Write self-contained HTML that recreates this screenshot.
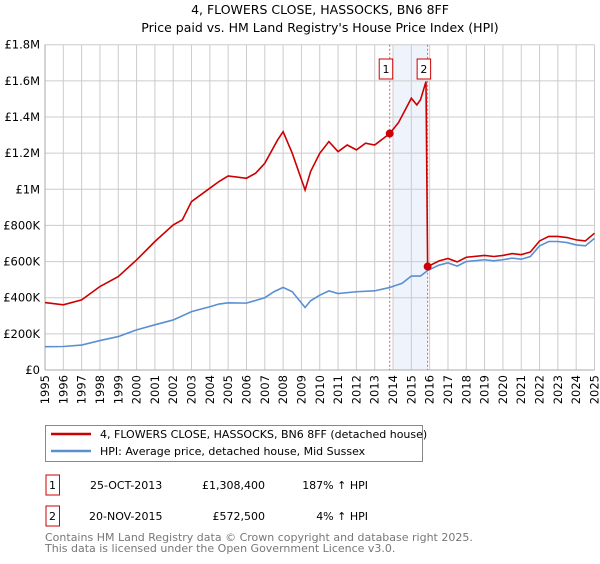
<!DOCTYPE html>
<html><head><meta charset="utf-8"><style>
body{margin:0;background:#fff;font-family:"DejaVu Sans","Liberation Sans",sans-serif;}
svg text{font-family:"DejaVu Sans","Liberation Sans",sans-serif;}
</style></head><body>
<svg id="chart" width="600" height="560" xmlns="http://www.w3.org/2000/svg">
<text x="320" y="14" text-anchor="middle" font-size="12.5" fill="#000">4, FLOWERS CLOSE, HASSOCKS, BN6 8FF</text>
<text x="320" y="32" text-anchor="middle" font-size="12.5" fill="#000">Price paid vs. HM Land Registry's House Price Index (HPI)</text>
<g id="plot"></g>
<g>
<rect x="45.5" y="425.5" width="377" height="36" fill="#fff" stroke="#888"/>
<line x1="51" y1="434" x2="91" y2="434" stroke="#cc0000" stroke-width="2.5"/>
<text x="100" y="438" font-size="11">4, FLOWERS CLOSE, HASSOCKS, BN6 8FF (detached house)</text>
<line x1="51" y1="451" x2="91" y2="451" stroke="#5b8fd4" stroke-width="2.5"/>
<text x="100" y="455" font-size="11">HPI: Average price, detached house, Mid Sussex</text>
</g>
<g font-size="11">
<rect x="46" y="475" width="13.5" height="20" fill="#fff" stroke="#cc0000"/>
<text x="52.5" y="489" text-anchor="middle">1</text>
<text x="90" y="489">25-OCT-2013</text>
<text x="265" y="489" text-anchor="end">£1,308,400</text>
<text x="368" y="489" text-anchor="end">187% ↑ HPI</text>
<rect x="46" y="506" width="13.5" height="20" fill="#fff" stroke="#cc0000"/>
<text x="52.5" y="520" text-anchor="middle">2</text>
<text x="89" y="520">20-NOV-2015</text>
<text x="265" y="520" text-anchor="end">£572,500</text>
<text x="368" y="520" text-anchor="end">4% ↑ HPI</text>
</g>
<g font-size="11" fill="#777">
<text x="45" y="541">Contains HM Land Registry data © Crown copyright and database right 2025.</text>
<text x="45" y="552">This data is licensed under the Open Government Licence v3.0.</text>
</g>
</svg>
<script>
const hpiDates=[1995,1996,1997,1998,1999,2000,2001,2002,2003,2004,2004.5,2005,2006,2007,2007.5,2008,2008.5,2009.2,2009.5,2010,2010.5,2011,2012,2013,2013.8,2014.5,2015,2015.5,2015.9,2016.5,2017,2017.5,2018,2019,2019.5,2020,2020.5,2021,2021.5,2022,2022.5,2023,2023.5,2024,2024.5,2025];
const hpiValues=[129000,130000,138000,163000,185000,222000,250000,277000,323000,350000,365000,372000,370000,400000,433000,457000,433000,346000,383000,414000,438000,423000,433000,438000,456000,480000,520000,520000,551000,580000,593000,575000,600000,610000,604000,610000,619000,613000,628000,687000,711000,711000,705000,692000,687000,728000];
const priceDates=[1995,1996,1997,1998,1999,2000,2001,2002,2002.5,2003,2004,2004.5,2005,2006,2006.5,2007,2007.7,2008,2008.5,2009.2,2009.5,2010,2010.5,2011,2011.5,2012,2012.5,2013,2013.82,2014.3,2015,2015.3,2015.5,2015.8,2015.89,2016.5,2017,2017.5,2018,2019,2019.5,2020,2020.5,2021,2021.5,2022,2022.5,2023,2023.5,2024,2024.5,2025];
const priceValues=[373000,361000,388000,462000,517000,609000,711000,803000,831000,932000,1006000,1043000,1074000,1061000,1089000,1144000,1273000,1319000,1199000,996000,1098000,1199000,1264000,1208000,1245000,1218000,1255000,1245000,1308400,1369000,1504000,1467000,1495000,1596000,572500,603000,617000,598000,624000,634000,628000,634000,644000,638000,653000,714000,739000,739000,733000,720000,714000,757000];
const sales=[{n:"1",d:2013.82,v:1308400},{n:"2",d:2015.89,v:572500}];
const yTicks=[0,200000,400000,600000,800000,1000000,1200000,1400000,1600000,1800000];
const yLabels=["£0","£200K","£400K","£600K","£800K","£1M","£1.2M","£1.4M","£1.6M","£1.8M"];
const xYears=[1995,1996,1997,1998,1999,2000,2001,2002,2003,2004,2005,2006,2007,2008,2009,2010,2011,2012,2013,2014,2015,2016,2017,2018,2019,2020,2021,2022,2023,2024,2025];
const X0=45,X1=594.5,Y0=370,Y1=44.7;
const xs=d=>X0+(d-1995)/30*(X1-X0);
const ys=v=>Y0-v/1800000*(Y0-Y1);
const NS="http://www.w3.org/2000/svg";
const g=document.getElementById('plot');
function mk(t,a){const e=document.createElementNS(NS,t);for(const k in a)e.setAttribute(k,a[k]);g.appendChild(e);return e;}
const shade=mk('rect',{x:xs(2014),y:Y1,width:xs(sales[1].d)-xs(2014),height:Y0-Y1,fill:'#eef3fc'});


xYears.forEach(y=>{const l=mk('line',{x1:xs(y),x2:xs(y),y1:Y1,y2:Y0,stroke:'#ccc','stroke-width':1});


const t=mk('text',{x:0,y:0,'font-size':11.5,'text-anchor':'end',transform:`translate(${xs(y)+4},${Y0+5}) rotate(-90)`});t.textContent=y;

});
yTicks.forEach((v,i)=>{const l=mk('line',{x1:X0,x2:X1,y1:ys(v),y2:ys(v),stroke:'#ccc','stroke-width':1});


const t=mk('text',{x:40,y:ys(v)+4,'font-size':11.5,'text-anchor':'end'});t.textContent=yLabels[i];

});
mk('line',{x1:X0,x2:X0,y1:Y1,y2:Y0,stroke:'#aaa'});
mk('line',{x1:X0,x2:X1,y1:Y0,y2:Y0,stroke:'#aaa'});
sales.forEach(s=>{const l=mk('line',{x1:xs(s.d),x2:xs(s.d),y1:Y1,y2:Y0,stroke:'#e55','stroke-width':1,'stroke-dasharray':'2,2'});

});
const hp=mk('polyline',{points:hpiDates.map((d,i)=>xs(d)+','+ys(hpiValues[i])).join(' '),fill:'none',stroke:'#5b8fd4','stroke-width':1.6});


const pp=mk('polyline',{points:priceDates.map((d,i)=>xs(d)+','+ys(priceValues[i])).join(' '),fill:'none',stroke:'#cc0000','stroke-width':1.6});


sales.forEach(s=>{const c=mk('circle',{cx:xs(s.d),cy:ys(s.v),r:4,fill:'#cc0000'});


const b=mk('rect',{x:xs(s.d)-10.5,y:59,width:13.5,height:20,fill:'#fff',stroke:'#cc0000'});


const t=mk('text',{x:xs(s.d)-3.75,y:73,'font-size':11,'text-anchor':'middle'});t.textContent=s.n;

});
</script>
</body></html>
